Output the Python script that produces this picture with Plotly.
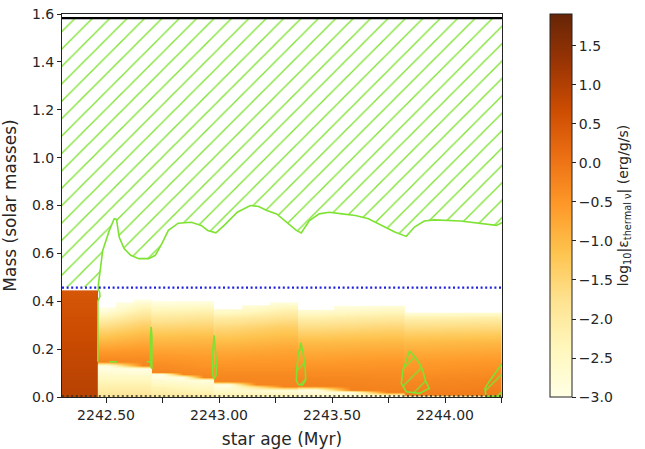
import plotly.graph_objects as go

NAN = float("nan")

# ---- time axis ----
age_range = [2242.305, 2244.252]
xtick_vals = [2242.50, 2242.75, 2243.00, 2243.25, 2243.50, 2243.75, 2244.00, 2244.25]
xtick_text = ["2242.50", "", "2243.00", "", "2243.50", "", "2244.00", ""]

# ---- log10 |eps_thermal,nu| field, one block per inter-pulse interval ----
# each block: age bin edges, mass levels, and profiles at start / middle / end
seg1_age = [2242.290, 2242.4634]
seg1_mass = [0.01, 0.10, 0.20, 0.30, 0.40, 0.440, 0.452]
seg1_val = [0.92, 0.85, 0.75, 0.65, 0.55, 0.50, NAN]

seg2_age = [2242.4634, 2242.5431, 2242.6229, 2242.703]
seg2_mass = [0.01, 0.05, 0.09, 0.12, 0.13, 0.15, 0.19, 0.23, 0.27, 0.31, 0.34, 0.365, 0.39, 0.405, 0.415]
seg2_start = [-1.9, -2.2, -2.6, -2.9, -3.0, -0.25, -0.55, -0.95, -1.35, -1.85, -2.40, -2.90, NAN, NAN, NAN]
seg2_mid = [-1.9, -2.2, -2.6, -2.95, -1.6, -0.28, -0.52, -0.88, -1.22, -1.68, -2.10, -2.55, -2.85, NAN, NAN]
seg2_end = [-1.9, -2.2, -2.6, -3.0, -0.25, -0.30, -0.50, -0.80, -1.10, -1.50, -1.85, -2.20, -2.60, -2.90, NAN]

seg3_age = [2242.703, 2242.7947, 2242.8863, 2242.978]
seg3_mass = [0.01, 0.04, 0.07, 0.085, 0.095, 0.105, 0.13, 0.17, 0.21, 0.25, 0.29, 0.33, 0.37, 0.395, 0.41]
seg3_start = [-2.0, -2.3, -2.7, -2.9, -3.0, -0.25, -0.35, -0.55, -0.80, -1.10, -1.45, -1.90, -2.50, -2.90, NAN]
seg3_mid = [-2.05, -2.4, -2.8, -2.95, -0.30, -0.30, -0.40, -0.57, -0.80, -1.07, -1.42, -1.85, -2.45, -2.88, NAN]
seg3_end = [-2.1, -2.5, -2.9, -0.25, -0.30, -0.35, -0.45, -0.60, -0.80, -1.05, -1.40, -1.80, -2.40, -2.85, NAN]

seg4_age = [2242.978, 2243.1017, 2243.2253, 2243.349]
seg4_mass = [0.01, 0.03, 0.045, 0.055, 0.065, 0.09, 0.13, 0.17, 0.21, 0.25, 0.29, 0.33, 0.36, 0.38, 0.39, 0.405]
seg4_start = [-2.3, -2.6, -2.9, -3.0, -0.25, -0.30, -0.45, -0.65, -0.90, -1.20, -1.55, -2.00, -2.60, NAN, NAN, NAN]
seg4_mid = [-2.35, -2.75, -1.6, -0.25, -0.27, -0.30, -0.45, -0.62, -0.85, -1.12, -1.45, -1.88, -2.40, -2.75, NAN, NAN]
seg4_end = [-2.4, -2.9, -0.20, -0.25, -0.28, -0.30, -0.45, -0.60, -0.80, -1.05, -1.35, -1.75, -2.15, -2.50, -2.80, NAN]

seg5_age = [2243.349, 2243.5063, 2243.6637, 2243.821]
seg5_mass = [0.005, 0.02, 0.03, 0.045, 0.07, 0.11, 0.15, 0.19, 0.23, 0.27, 0.31, 0.34, 0.36, 0.375, 0.39]
seg5_start = [-2.5, -2.8, -3.0, -0.20, -0.25, -0.40, -0.60, -0.80, -1.05, -1.40, -1.85, -2.30, -2.70, NAN, NAN]
seg5_mid = [-2.7, -2.9, -0.18, -0.22, -0.27, -0.40, -0.57, -0.77, -1.02, -1.35, -1.78, -2.20, -2.58, -2.85, NAN]
seg5_end = [-2.9, -0.15, -0.20, -0.25, -0.30, -0.40, -0.55, -0.75, -1.00, -1.30, -1.70, -2.10, -2.45, -2.75, NAN]

seg6_age = [2243.821, 2243.964, 2244.107, 2244.270]
seg6_mass = [0.003, 0.012, 0.03, 0.07, 0.11, 0.15, 0.19, 0.23, 0.27, 0.31, 0.335, 0.35, 0.36]
seg6_start = [-2.9, -0.15, -0.20, -0.30, -0.45, -0.60, -0.80, -1.05, -1.40, -1.85, -2.30, -2.70, NAN]
seg6_mid = [-2.9, -0.12, -0.18, -0.28, -0.42, -0.58, -0.78, -1.02, -1.38, -1.82, -2.25, -2.65, NAN]
seg6_end = [-2.9, -0.10, -0.15, -0.25, -0.40, -0.55, -0.75, -1.00, -1.35, -1.80, -2.20, -2.60, NAN]

# ---- convective boundary (upper envelope) ----
conv_age = [2242.4634, 2242.4621, 2242.4634, 2242.4730, 2242.4708, 2242.4656, 2242.4665,
            2242.4852, 2242.5144, 2242.5361, 2242.5462, 2242.5579, 2242.5797, 2242.6089,
            2242.6450, 2242.6886, 2242.7178, 2242.7465, 2242.7757, 2242.8193, 2242.8772,
            2242.9207, 2242.9499, 2242.9861, 2243.0226, 2243.0806, 2243.1385, 2243.1751,
            2243.2112, 2243.2548, 2243.2983, 2243.3419, 2243.3637, 2243.3998, 2243.4434,
            2243.4869, 2243.5453, 2243.6032, 2243.6611, 2243.7195, 2243.7774, 2243.8284,
            2243.8645, 2243.9081, 2243.9517, 2244.0679, 2244.1694, 2244.2273, 2244.2600]
conv_mass = [0.147, 0.30, 0.40, 0.42, 0.44, 0.45, 0.474,
             0.6125, 0.696, 0.745, 0.742, 0.668, 0.620, 0.592,
             0.578, 0.578, 0.592, 0.640, 0.696, 0.726, 0.730,
             0.717, 0.696, 0.686, 0.717, 0.772, 0.800, 0.796,
             0.779, 0.765, 0.730, 0.696, 0.685, 0.7375, 0.765,
             0.772, 0.765, 0.758, 0.745, 0.717, 0.689, 0.671,
             0.710, 0.735, 0.740, 0.735, 0.724, 0.717, 0.732]

total_mass = 1.583
he_core_mass = 0.457

# small convective pockets during the pulses
pocketA_age = [2242.6995, 2242.6964, 2242.6964, 2242.6995, 2242.7030, 2242.7038, 2242.7025, 2242.6995]
pocketA_mass = [0.120, 0.160, 0.250, 0.293, 0.250, 0.160, 0.120, 0.120]
pocketB_age = [2242.9782, 2242.9730, 2242.9708, 2242.9717, 2242.9782, 2242.9869, 2242.9891, 2242.9847, 2242.9782]
pocketB_mass = [0.258, 0.200, 0.130, 0.090, 0.078, 0.090, 0.130, 0.200, 0.258]
pocketC_age = [2243.3624, 2243.3506, 2243.3441, 2243.3419, 2243.3506, 2243.3680, 2243.3833, 2243.3811, 2243.3724, 2243.3624]
pocketC_mass = [0.226, 0.180, 0.120, 0.070, 0.052, 0.050, 0.070, 0.120, 0.180, 0.226]
pocketD_age = [2243.8428, 2243.8136, 2243.8066, 2243.8284, 2243.8863, 2243.9299, 2243.9125, 2243.9007, 2243.8863, 2243.8720, 2243.8428]
pocketD_mass = [0.192, 0.1125, 0.057, 0.022, 0.015, 0.036, 0.070, 0.1125, 0.140, 0.161, 0.192]
pocketE_age = [2244.1803, 2244.1768, 2244.1956, 2244.2217, 2244.2600, 2244.2600, 2244.1803]
pocketE_mass = [0.003, 0.036, 0.065, 0.100, 0.150, 0.003, 0.003]
dashA_age = [2242.5144, 2242.5492]
dashB_age = [2242.6799, 2242.6974]
dash_mass = [0.147, 0.147]

GREEN = "#7ee232"
FONT = "DejaVu Sans"
TXT = "#262626"

fig = go.Figure()


def block(ages, mass, cols):
    z = [list(r) for r in zip(*cols)]
    fig.add_trace(go.Heatmap(x=ages, y=mass, z=z, coloraxis="coloraxis",
                             zsmooth="best", hoverinfo="skip"))


block(seg1_age, seg1_mass, [seg1_val])
block(seg2_age, seg2_mass, [seg2_start, seg2_mid, seg2_end])
block(seg3_age, seg3_mass, [seg3_start, seg3_mid, seg3_end])
block(seg4_age, seg4_mass, [seg4_start, seg4_mid, seg4_end])
block(seg5_age, seg5_mass, [seg5_start, seg5_mid, seg5_end])
block(seg6_age, seg6_mass, [seg6_start, seg6_mid, seg6_end])

# diagonal hatching (plotly tile = size*sqrt(2) wide, line width = solidity*size)
hatch = dict(shape="/", size=12.3, solidity=0.11, fgcolor=GREEN,
             bgcolor="rgba(0,0,0,0)", fillmode="replace")

# hatched convective envelope: total-mass line down to the boundary, then along the He core
left = age_range[0] - 0.02
env_x = [left, 2244.27, 2244.27] + conv_age[::-1][:-6] + [2242.4634, left]
env_y = [total_mass, total_mass, conv_mass[-1]] + conv_mass[::-1][:-6] + [he_core_mass + 0.004, he_core_mass + 0.004]
fig.add_trace(go.Scatter(x=env_x, y=env_y, mode="none", fill="toself",
                         fillcolor="rgba(0,0,0,0)", fillpattern=hatch, hoverinfo="skip"))
fig.add_trace(go.Scatter(x=conv_age, y=conv_mass, mode="lines",
                         line=dict(color=GREEN, width=1.6), hoverinfo="skip"))

for px, py in [(pocketA_age, pocketA_mass), (pocketB_age, pocketB_mass),
               (pocketC_age, pocketC_mass), (pocketD_age, pocketD_mass),
               (pocketE_age, pocketE_mass)]:
    fig.add_trace(go.Scatter(x=px, y=py, mode="lines", fill="toself",
                             fillcolor="rgba(0,0,0,0)", fillpattern=hatch,
                             line=dict(color=GREEN, width=1.6), hoverinfo="skip"))
for dx in [dashA_age, dashB_age]:
    fig.add_trace(go.Scatter(x=dx, y=dash_mass, mode="lines",
                             line=dict(color=GREEN, width=1.6), hoverinfo="skip"))

# He core boundary, total mass and centre lines
fig.add_trace(go.Scatter(x=age_range, y=[he_core_mass, he_core_mass], mode="lines",
                         line=dict(color="#2020e0", width=2.2, dash="2px,2.6px"), hoverinfo="skip"))
fig.add_trace(go.Scatter(x=age_range, y=[total_mass, total_mass], mode="lines",
                         line=dict(color="black", width=2.2), hoverinfo="skip"))
fig.add_trace(go.Scatter(x=age_range, y=[0.004, 0.004], mode="lines",
                         line=dict(color="#303020", width=1.5, dash="2px,2.6px"), hoverinfo="skip"))

fig.update_layout(
    width=645, height=449,
    margin=dict(l=62, r=136, t=14, b=52),
    paper_bgcolor="white", plot_bgcolor="white",
    showlegend=False,
    font=dict(family=FONT, size=14, color=TXT),
    coloraxis=dict(
        cmin=-3.0, cmax=1.91, colorscale="YlOrBr",
        colorbar=dict(
            x=1.1096, xanchor="left", xpad=0, y=0.5, yanchor="middle", ypad=0,
            len=1.0, lenmode="fraction", thickness=22,
            outlinewidth=1, outlinecolor="#222",
            ticks="outside", ticklen=4, tickwidth=1, tickcolor="#222",
            tickvals=[-3.0, -2.5, -2.0, -1.5, -1.0, -0.5, 0.0, 0.5, 1.0, 1.5],
            tickformat=".1f",
            tickfont=dict(family=FONT, size=14, color=TXT),
            title=dict(text="log<sub>10</sub>|ε<sub>thermal ν</sub>| (erg/g/s)",
                       side="right", font=dict(family=FONT, size=14, color=TXT)),
        ),
    ),
    xaxis=dict(
        range=age_range, tickvals=xtick_vals, ticktext=xtick_text,
        ticks="outside", ticklen=5, tickwidth=1, tickcolor="#222",
        showline=True, linecolor="#222", linewidth=1, mirror=True,
        showgrid=False, zeroline=False, automargin=False,
        title=dict(text="star age (Myr)"),
    ),
    yaxis=dict(
        range=[0, 1.6], tickvals=[0, 0.2, 0.4, 0.6, 0.8, 1.0, 1.2, 1.4, 1.6], tickformat=".1f",
        ticks="outside", ticklen=4, tickwidth=1, tickcolor="#222",
        showline=True, linecolor="#222", linewidth=1, mirror=True,
        showgrid=False, zeroline=False, automargin=False,
        title=dict(text="Mass (solar masses)"),
    ),
)

fig.write_html("out.html")
